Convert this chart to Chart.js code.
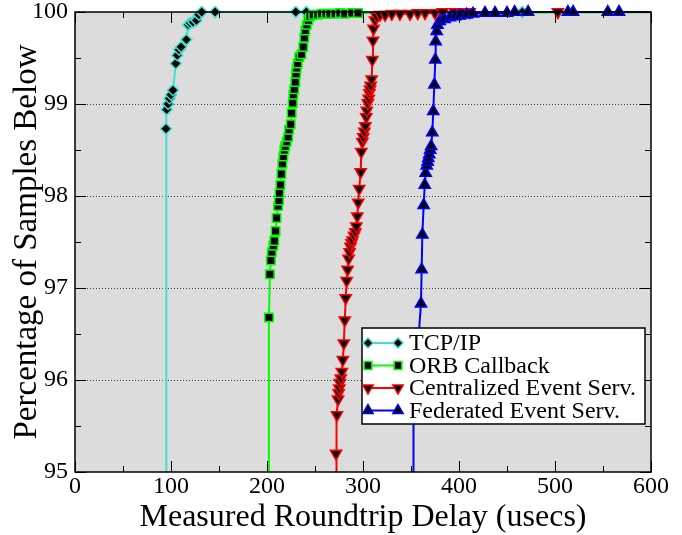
<!DOCTYPE html>
<html><head><meta charset="utf-8">
<script src="https://cdn.jsdelivr.net/npm/chart.js@4/dist/chart.umd.min.js"></script>
<style>html,body{margin:0;padding:0;background:#fff}#wrap{width:682px;height:535px;position:relative}</style>
</head><body><div id="wrap"><canvas id="c" width="682" height="535"></canvas></div>
<script>
// ---- data ----
const seriesNames = ["TCP/IP", "ORB Callback", "Centralized Event Serv.", "Federated Event Serv."];
const xTickValues = [0, 100, 200, 300, 400, 500, 600];
const yTickValues = [95, 96, 97, 98, 99, 100];

const tcpX = [94.8, 94.8, 95.5, 97, 98.5, 100, 102, 105, 106.5, 108.5, 110.5, 116, 118, 120, 123, 126.5, 129, 132, 146, 230, 241, 466, 700];
const tcpY = [90, 98.73, 98.94, 99.0, 99.06, 99.1, 99.15, 99.44, 99.53, 99.59, 99.62, 99.7, 99.86, 99.88, 99.89, 99.91, 99.97, 100, 100, 100, 100, 100, 100];

const orbX = [201.5, 202, 203, 204, 205, 206.5, 207.6, 209, 210, 211.5, 212.5, 213, 214, 215, 216, 217, 218, 219, 220.5, 222, 223, 224.7, 225.7, 226.8, 227.4, 228.4, 229.5, 230.2, 230.9, 232, 233.6, 236, 237.8, 238.9, 239.9, 241.4, 243, 244.8, 248.2, 253, 257, 261.5, 265.6, 271, 276, 281, 288.5, 294.8, 700];
const orbY = [90, 96.68, 97.15, 97.30, 97.39, 97.46, 97.51, 97.62, 97.76, 97.89, 97.95, 98.03, 98.12, 98.24, 98.35, 98.43, 98.5, 98.54, 98.59, 98.64, 98.72, 98.78, 98.9, 99.01, 99.1, 99.16, 99.24, 99.33, 99.39, 99.44, 99.51, 99.54, 99.62, 99.72, 99.8, 99.86, 99.91, 99.95, 99.97, 99.97, 99.98, 99.98, 99.98, 99.98, 99.99, 99.98, 99.99, 99.99, 100];

const cenX = [271.9, 271.9, 272.9, 274, 274.7, 275.3, 276, 276.8, 278, 279, 280, 281, 282, 283, 284, 285, 286, 287, 288, 289, 290.6, 292, 293, 294, 295, 296, 297.6, 298.2, 299.3, 300.3, 301.4, 302.4, 303.4, 304, 305, 306, 306.6, 307.3, 308, 309, 309.7, 310.4, 311, 312.5, 314.3, 317.7, 323, 330, 338.5, 349, 357, 364.6, 375, 383, 396, 403, 411, 503, 700];
const cenY = [90, 95.2, 95.62, 95.79, 95.86, 95.91, 95.97, 96.02, 96.09, 96.22, 96.40, 96.65, 96.89, 97.08, 97.20, 97.32, 97.39, 97.45, 97.49, 97.52, 97.57, 97.61, 97.67, 97.78, 97.93, 98.08, 98.26, 98.48, 98.59, 98.64, 98.70, 98.76, 98.86, 98.93, 99.01, 99.06, 99.12, 99.16, 99.2, 99.27, 99.48, 99.69, 99.82, 99.91, 99.95, 99.97, 99.97, 99.98, 99.98, 99.98, 99.99, 99.99, 99.99, 100, 100, 100, 100, 100, 100];

const fedX = [352.6, 352.6, 360.4, 361.1, 361.8, 363.2, 364.3, 365.3, 366.4, 367.4, 368, 369, 370, 371, 372.2, 373.2, 374.3, 375.3, 375.7, 376.8, 377.5, 380, 385, 390.6, 396, 401, 408, 414.6, 427, 437.5, 450, 458, 472, 513.5, 518.8, 555, 566.7, 700];
const fedY = [90, 95.7, 96.83, 97.2, 97.58, 97.90, 98.12, 98.25, 98.33, 98.37, 98.41, 98.45, 98.5, 98.54, 98.69, 98.92, 99.21, 99.48, 99.68, 99.79, 99.86, 99.9, 99.92, 99.94, 99.95, 99.96, 99.97, 99.98, 99.99, 99.99, 99.99, 100, 100, 100, 100, 100, 100, 100];

// ---- styles ----
const colors = ["#40e0d0", "#00ff00", "#ff0000", "#0000ff"];
const markerStyles = ["rectRot", "rect", "triangle", "triangle"];
const markerRot = [0, 0, 180, 0];
const markerRadius = [5.5, 6, 6.5, 6.5];
const FONT = "'Liberation Serif', 'Times New Roman', serif";
Chart.defaults.font.family = FONT;
Chart.defaults.color = "#000";

function pts(xs, ys) { return xs.map((x, i) => ({x: x, y: ys[i]})); }
const allData = [pts(tcpX, tcpY), pts(orbX, orbY), pts(cenX, cenY), pts(fedX, fedY)];

const datasets = allData.map((d, i) => ({
  label: seriesNames[i],
  data: d,
  showLine: true,
  borderColor: colors[i],
  borderWidth: 2,
  tension: 0,
  pointStyle: markerStyles[i],
  pointRotation: markerRot[i],
  pointRadius: (ctx) => { const v = ctx.raw; return (v && (v.y < 95 || v.x > 600)) ? 0 : markerRadius[i]; },
  pointHoverRadius: 0,
  pointBackgroundColor: "#000",
  pointBorderColor: colors[i],
  pointBorderWidth: 1.5,
  clip: {left: 0, top: 9, right: 0, bottom: 0},
  order: 4 - i
}));

function drawMarker(ctx, style, rot, r, x, y, color) {
  ctx.save();
  ctx.beginPath();
  if (style === "rectRot") {
    ctx.moveTo(x - r, y); ctx.lineTo(x, y - r); ctx.lineTo(x + r, y); ctx.lineTo(x, y + r);
  } else if (style === "rect") {
    const s = Math.SQRT1_2 * r; ctx.rect(x - s, y - s, 2 * s, 2 * s);
  } else {
    let a = rot * Math.PI / 180;
    ctx.moveTo(x + Math.sin(a) * r, y - Math.cos(a) * r);
    a += 2 * Math.PI / 3;
    ctx.lineTo(x + Math.sin(a) * r, y - Math.cos(a) * r);
    a += 2 * Math.PI / 3;
    ctx.lineTo(x + Math.sin(a) * r, y - Math.cos(a) * r);
  }
  ctx.closePath();
  ctx.fillStyle = "#000"; ctx.fill();
  ctx.lineWidth = 1.5; ctx.strokeStyle = color; ctx.stroke();
  ctx.restore();
}

const decor = {
  id: "decor",
  beforeDraw(chart) {
    const {ctx, chartArea: a} = chart;
    ctx.save();
    ctx.fillStyle = "#dcdcdc";
    ctx.fillRect(a.left, a.top, a.right - a.left, a.bottom - a.top);
    ctx.restore();
  },
  beforeDatasetsDraw(chart) {
    const {ctx, chartArea: a, scales: {y}} = chart;
    ctx.save();
    ctx.strokeStyle = "#444";
    ctx.lineWidth = 1;
    ctx.setLineDash([1, 2]);
    yTickValues.forEach(v => {
      if (v === 95 || v === 100) return;
      const py = Math.round(y.getPixelForValue(v)) + 0.5;
      ctx.beginPath(); ctx.moveTo(a.left, py); ctx.lineTo(a.right, py); ctx.stroke();
    });
    ctx.restore();
  },
  afterDatasetsDraw(chart) {
    const {ctx, chartArea: a, scales: {x, y}} = chart;
    ctx.save();
    ctx.strokeStyle = "#000";
    ctx.lineWidth = 1.5;
    ctx.strokeRect(a.left, a.top, a.right - a.left, a.bottom - a.top);
    ctx.lineWidth = 1;
    for (let v = 0; v <= 600; v += 50) {
      const px = Math.round(x.getPixelForValue(v)) + 0.5;
      const len = v % 100 === 0 ? 11 : 6;
      ctx.beginPath();
      ctx.moveTo(px, a.bottom); ctx.lineTo(px, a.bottom - len);
      ctx.moveTo(px, a.top); ctx.lineTo(px, a.top + len);
      ctx.stroke();
    }
    for (let v = 95; v <= 100; v += 0.5) {
      const py = Math.round(y.getPixelForValue(v)) + 0.5;
      const len = Number.isInteger(v) ? 11 : 6;
      ctx.beginPath();
      ctx.moveTo(a.left, py); ctx.lineTo(a.left + len, py);
      ctx.moveTo(a.right, py); ctx.lineTo(a.right - len, py);
      ctx.stroke();
    }
    ctx.restore();
  },
  afterDraw(chart) {
    const {ctx, chartArea: a} = chart;
    const bx = a.left + 287, by = a.top + 316, bw = 283, bh = 96;
    ctx.save();
    ctx.fillStyle = "#fff";
    ctx.fillRect(bx, by, bw, bh);
    ctx.strokeStyle = "#000"; ctx.lineWidth = 1.5;
    ctx.strokeRect(bx, by, bw, bh);
    ctx.font = "24px " + FONT;
    ctx.textBaseline = "middle";
    ctx.fillStyle = "#000";
    seriesNames.forEach((name, i) => {
      const cy = by + 15 + i * 22.5;
      const x1 = bx + 6, x2 = bx + 36;
      ctx.strokeStyle = colors[i]; ctx.lineWidth = 2;
      ctx.beginPath(); ctx.moveTo(x1, cy); ctx.lineTo(x2, cy); ctx.stroke();
      drawMarker(ctx, markerStyles[i], markerRot[i], markerRadius[i] - 0.5, x1, cy, colors[i]);
      drawMarker(ctx, markerStyles[i], markerRot[i], markerRadius[i] - 0.5, x2, cy, colors[i]);
      ctx.fillStyle = "#000";
      ctx.fillText(name, bx + 47, cy + 1);
    });
    ctx.restore();
  }
};

new Chart(document.getElementById("c"), {
  type: "scatter",
  data: {datasets: datasets},
  options: {
    responsive: false,
    animation: false,
    devicePixelRatio: 1,
    layout: {padding: {left: 0, top: 12, right: 31, bottom: 0}},
    plugins: {legend: {display: false}, tooltip: {enabled: false}},
    scales: {
      x: {
        type: "linear", min: 0, max: 600,
        afterBuildTicks: (s) => { s.ticks = xTickValues.map(v => ({value: v})); },
        ticks: {color: "#000", font: {family: FONT, size: 24}, padding: 0, maxRotation: 0, autoSkip: false},
        grid: {display: false, drawTicks: false},
        border: {display: false},
        title: {display: true, text: "Measured Roundtrip Delay (usecs)", color: "#000", font: {family: FONT, size: 32, lineHeight: 1.0}, padding: {top: 0, bottom: 1}},
        afterFit: (s) => { s.height = 63; s.paddingLeft = 0; s.paddingRight = 0; }
      },
      y: {
        type: "linear", min: 95, max: 100,
        afterBuildTicks: (s) => { s.ticks = yTickValues.map(v => ({value: v})); },
        ticks: {color: "#000", font: {family: FONT, size: 24}, padding: 7, autoSkip: false},
        grid: {display: false, drawTicks: false},
        border: {display: false},
        title: {display: true, text: "Percentage of Samples Below", color: "#000", font: {family: FONT, size: 33, lineHeight: 1.0}, padding: {top: 11, bottom: 0}},
        afterFit: (s) => { s.width = 75; s.paddingTop = 0; s.paddingBottom = 0; }
      }
    }
  },
  plugins: [decor]
});
</script>
</body></html>
